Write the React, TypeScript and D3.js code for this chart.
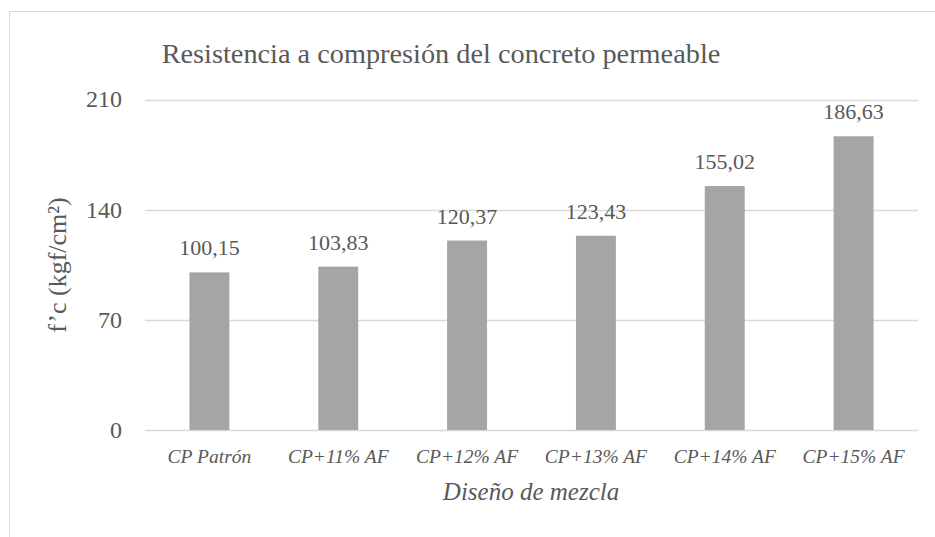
import React from "react";
import * as d3 from "d3";

const categories = ["CP Patrón", "CP+11% AF", "CP+12% AF", "CP+13% AF", "CP+14% AF", "CP+15% AF"];
const values = [100.15, 103.83, 120.37, 123.43, 155.02, 186.63];
const valueLabels = ["100,15", "103,83", "120,37", "123,43", "155,02", "186,63"];
const yTicks = [0, 70, 140, 210];
const title = "Resistencia a compresión del concreto permeable";
const xTitle = "Diseño de mezcla";
const yTitle = "f’c (kgf/cm²)";

const W = 935;
const H = 537;
const FONT = "'Liberation Serif', serif";
const TXT = "#595959";

export default function App() {
  const x = d3.scaleBand<string>().domain(categories).range([145, 918]).paddingInner(0.69).paddingOuter(0.345);
  const y = d3.scaleLinear().domain([0, 210]).range([430, 99.5]);
  const cx = (c: string) => (x(c) ?? 0) + x.bandwidth() / 2;

  return (
    <svg width={W} height={H} style={{ position: "absolute", left: 0, top: 0, background: "#fff" }}>
      <rect x={9.5} y={11.5} width={W + 20} height={H + 20} fill="#fff" stroke="#d9d9d9" strokeWidth={1} />
      <text x={441} y={63} textAnchor="middle" fontFamily={FONT} fontSize={28.3} fill={TXT}>
        {title}
      </text>
      {yTicks.map((t) => (
        <g key={t}>
          <line x1={145} x2={918} y1={Math.round(y(t)) + 0.5} y2={Math.round(y(t)) + 0.5} stroke="#d9d9d9" strokeWidth={1.3} />
          <text x={122} y={y(t)} dy="0.33em" textAnchor="end" fontFamily={FONT} fontSize={24} fill={TXT}>
            {t}
          </text>
        </g>
      ))}
      {categories.map((c, i) => (
        <g key={c}>
          <rect x={x(c)} y={y(values[i])} width={x.bandwidth()} height={y(0) - y(values[i])} fill="#a5a5a5" />
          <text x={cx(c)} y={y(values[i]) - 17} textAnchor="middle" fontFamily={FONT} fontSize={22} fill={TXT}>
            {valueLabels[i]}
          </text>
          <text x={cx(c)} y={463} textAnchor="middle" fontFamily={FONT} fontStyle="italic" fontSize={19.5} fill={TXT}>
            {c}
          </text>
        </g>
      ))}
      <text x={531} y={500} textAnchor="middle" fontFamily={FONT} fontStyle="italic" fontSize={25} fill={TXT}>
        {xTitle}
      </text>
      <text
        transform={`translate(66,265) rotate(-90)`}
        textAnchor="middle"
        fontFamily={FONT}
        fontSize={26}
        fill={TXT}
      >
        {yTitle}
      </text>
    </svg>
  );
}
